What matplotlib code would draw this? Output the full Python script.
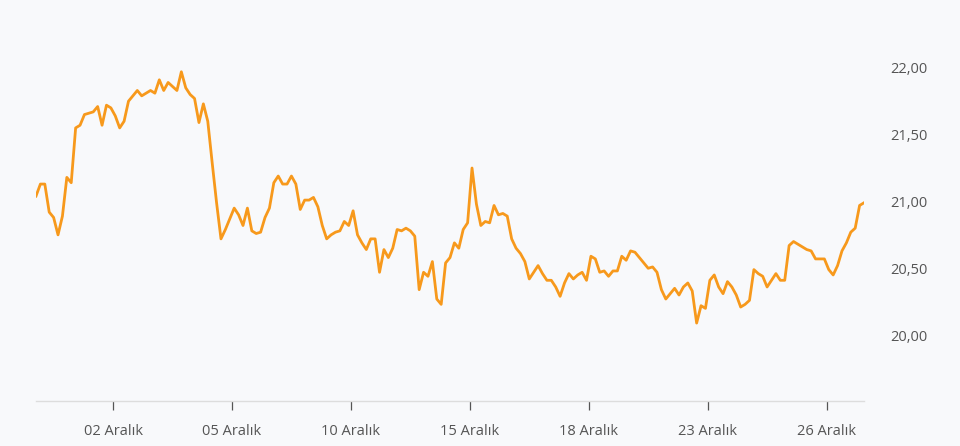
import matplotlib.pyplot as plt

# saatlik fiyatlar (28 Kasim - 26 Aralik, 9 nokta / gun)
fiyat = [
    21.04, 21.13, 21.13, 20.92, 20.88, 20.75, 20.89, 21.18, 21.14, 21.55,
    21.57, 21.65, 21.66, 21.67, 21.71, 21.57, 21.72, 21.70, 21.64, 21.55,
    21.60, 21.75, 21.79, 21.83, 21.79, 21.81, 21.83, 21.81, 21.91, 21.83,
    21.89, 21.86, 21.83, 21.97, 21.85, 21.80, 21.77, 21.59, 21.73, 21.60,
    21.29, 20.99, 20.72, 20.79, 20.87, 20.95, 20.90, 20.82, 20.95, 20.78,
    20.76, 20.77, 20.88, 20.95, 21.14, 21.19, 21.13, 21.13, 21.19, 21.13,
    20.94, 21.01, 21.01, 21.03, 20.96, 20.82, 20.72, 20.75, 20.77, 20.78,
    20.85, 20.82, 20.93, 20.75, 20.69, 20.64, 20.72, 20.72, 20.47, 20.64,
    20.58, 20.65, 20.79, 20.78, 20.80, 20.78, 20.74, 20.34, 20.47, 20.44,
    20.55, 20.27, 20.23, 20.54, 20.58, 20.69, 20.65, 20.79, 20.84, 21.25,
    20.98, 20.82, 20.85, 20.84, 20.97, 20.90, 20.91, 20.89, 20.72, 20.65,
    20.61, 20.55, 20.42, 20.47, 20.52, 20.46, 20.41, 20.41, 20.36, 20.29,
    20.39, 20.46, 20.42, 20.45, 20.47, 20.41, 20.59, 20.57, 20.47, 20.48,
    20.44, 20.48, 20.48, 20.59, 20.56, 20.63, 20.62, 20.58, 20.54, 20.50,
    20.51, 20.47, 20.34, 20.27, 20.31, 20.35, 20.30, 20.36, 20.39, 20.33,
    20.09, 20.22, 20.20, 20.41, 20.45, 20.36, 20.31, 20.40, 20.36, 20.30,
    20.21, 20.23, 20.26, 20.49, 20.46, 20.44, 20.36, 20.41, 20.46, 20.41,
    20.41, 20.67, 20.70, 20.68, 20.66, 20.64, 20.63, 20.57, 20.57, 20.57,
    20.49, 20.45, 20.52, 20.63, 20.69, 20.77, 20.80, 20.97, 20.99,
]

tarih_etiket = ["02 Aralık", "05 Aralık", "10 Aralık", "15 Aralık",
                "18 Aralık", "23 Aralık", "26 Aralık"]
tarih_konum = [17.5, 44.5, 71.5, 98.5, 125.5, 152.5, 179.5]

y_degerler = [20.0, 20.5, 21.0, 21.5, 22.0]
y_etiket = ["20,00", "20,50", "21,00", "21,50", "22,00"]

plt.rcParams['font.family'] = ['Open Sans', 'DejaVu Sans']

bg = "#f8f9fb"
fig = plt.figure(figsize=(9.6, 4.46), dpi=100, facecolor=bg)
ax = fig.add_axes([36 / 960, 1 - 401 / 446, 828 / 960, 401 / 446])
ax.set_facecolor(bg)

ax.plot(range(len(fiyat)), fiyat, color="#f7991c", linewidth=2.0,
        solid_joinstyle="round")

ax.set_xlim(0, len(fiyat) - 1)
ax.set_ylim(19.507, 22.507)

ax.set_xticks(tarih_konum)
ax.set_xticklabels(tarih_etiket)
ax.tick_params(axis="x", length=6.5, width=0.9, color="#555555", pad=10,
               labelsize=10.5, labelcolor="#555555")

ax.yaxis.tick_right()
ax.set_yticks(y_degerler)
ax.set_yticklabels(y_etiket)
ax.tick_params(axis="y", length=0, pad=19, labelsize=10.5, labelcolor="#555555")
for lbl in ax.get_yticklabels():
    lbl.set_horizontalalignment("left")

for s in ["top", "left", "right"]:
    ax.spines[s].set_visible(False)
ax.spines["bottom"].set_color("#dddddd")
ax.spines["bottom"].set_linewidth(1)

fig.savefig("out.png", dpi=100, facecolor=bg)
